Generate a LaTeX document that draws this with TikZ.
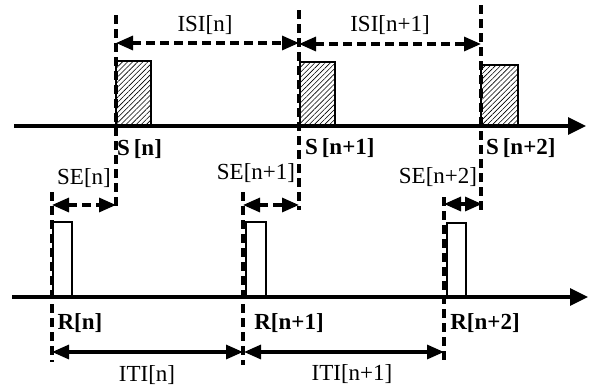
\documentclass[tikz,border=0pt]{standalone}
\usepackage{fontspec}
\setmainfont{Liberation Serif}
\usetikzlibrary{arrows.meta,patterns.meta}
\begin{document}
\begin{tikzpicture}[x=1pt,y=-1pt,
  tip/.tip={Triangle[length=17pt,width=14pt]},
  dsh/.style={line width=3.2pt,dash pattern=on 9pt off 5pt},
  axisline/.style={line width=3.2pt,-{Triangle[length=18pt,width=17pt]}},
  darrow/.style={dsh,tip-tip},
  sarrow/.style={line width=3.2pt,tip-tip},
  hbox/.style={draw,line width=1.5pt,pattern={Lines[angle=45,distance=3.6pt,line width=0.6pt]}},
  wbox/.style={draw,line width=1.5pt,fill=white},
  lbl/.style={font=\fontsize{23}{26}\selectfont,inner sep=0pt},
  blbl/.style={font=\fontsize{23}{26}\selectfont\bfseries,inner sep=0pt}]
\useasboundingbox (0,0) rectangle (591,388);

% stimulus boxes
\draw[hbox] (116,61) rectangle (151,126);
\draw[hbox] (300,62) rectangle (335,126);
\draw[hbox] (481,65) rectangle (518,126);
% response boxes
\draw[wbox] (53,222) rectangle (72,297);
\draw[wbox] (246,222) rectangle (266,297);
\draw[wbox] (447,223) rectangle (466,297);

% axes
\coordinate (ta0) at (14,126); \coordinate (ta1) at (586,126);
\coordinate (ba0) at (12,297); \coordinate (ba1) at (588,297);
\draw[axisline] (ta0) -- (ta1);
\draw[axisline] (ba0) -- (ba1);

% dashed guide lines
\coordinate (s1t) at (116,15);  \coordinate (s1b) at (116,210);
\coordinate (s2t) at (299,10);  \coordinate (s2b) at (299,210);
\coordinate (s3t) at (481,5);   \coordinate (s3b) at (481,212);
\coordinate (r1t) at (52,192);  \coordinate (r1b) at (52,362);
\coordinate (r2t) at (243,192); \coordinate (r2b) at (243,365);
\coordinate (r3t) at (444,197); \coordinate (r3b) at (444,363);
\draw[dsh] (s1t) -- (s1b);
\draw[dsh] (s2t) -- (s2b);
\draw[dsh] (s3t) -- (s3b);
\draw[dsh] (r1t) -- (r1b);
\draw[dsh] (r2t) -- (r2b);
\draw[dsh] (r3t) -- (r3b);

% ISI arrows
\coordinate (i1a) at (116,43); \coordinate (i1b) at (299,43);
\coordinate (i2a) at (299,44); \coordinate (i2b) at (481,44);
\draw[darrow] (i1a) -- (i1b);
\draw[darrow] (i2a) -- (i2b);

% SE arrows
\coordinate (e1a) at (52,205);  \coordinate (e1b) at (116,205);
\coordinate (e2a) at (243,205); \coordinate (e2b) at (299,205);
\coordinate (e3a) at (444,204); \coordinate (e3b) at (482,204);
\draw[darrow] (e1a) -- (e1b);
\draw[darrow] (e2a) -- (e2b);
\draw[darrow] (e3a) -- (e3b);

% ITI arrows
\coordinate (t1a) at (52,352);  \coordinate (t1b) at (243,352);
\coordinate (t2a) at (244,352); \coordinate (t2b) at (444,352);
\draw[sarrow] (t1a) -- (t1b);
\draw[sarrow] (t2a) -- (t2b);

% labels
\node[lbl] (isi1) at (205,25) {ISI[n]};
\node[lbl] (isi2) at (390,25) {ISI[n+1]};
\node[blbl,anchor=west] (s1) at (117,149) {S\,[n]};
\node[blbl,anchor=west] (s2) at (305,148) {S\,[n+1]};
\node[blbl,anchor=west] (s3) at (486,148) {S\,[n+2]};
\node[lbl] (se1) at (84,178) {SE[n]};
\node[lbl] (se2) at (256,173) {SE[n+1]};
\node[lbl] (se3) at (438,177) {SE[n+2]};
\node[blbl] (r1) at (80,323) {R[n]};
\node[blbl] (r2) at (289,323) {R[n+1]};
\node[blbl] (r3) at (485,323) {R[n+2]};
\node[lbl] (iti1) at (147,375) {ITI[n]};
\node[lbl] (iti2) at (352,374) {ITI[n+1]};
\end{tikzpicture}
\end{document}
